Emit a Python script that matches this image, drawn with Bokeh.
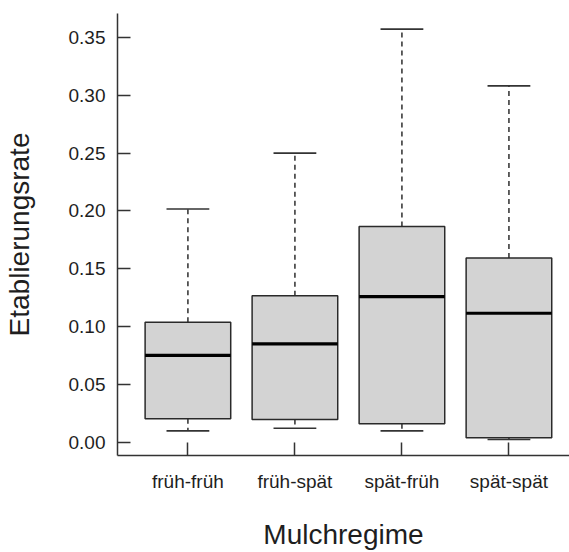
from bokeh.plotting import figure
from bokeh.models import Range1d, FixedTicker, PrintfTickFormatter, ColumnDataSource
from bokeh.embed import file_html
from bokeh.resources import INLINE

categories = ["früh-früh", "früh-spät", "spät-früh", "spät-spät"]
whisker_low = [0.0098, 0.0121, 0.0098, 0.0023]
q1 = [0.0202, 0.0196, 0.0159, 0.0038]
median = [0.0750, 0.0851, 0.1259, 0.1115]
q3 = [0.1038, 0.1267, 0.1865, 0.1592]
whisker_high = [0.2017, 0.2500, 0.3572, 0.3081]
y_ticks = [0.00, 0.05, 0.10, 0.15, 0.20, 0.25, 0.30, 0.35]
x_label = "Mulchregime"
y_label = "Etablierungsrate"

pos = [i + 1 for i in range(len(categories))]
box_w = 0.8
cap_w = 0.4

src = ColumnDataSource(dict(
    x=pos, lo=whisker_low, q1=q1, med=median, q3=q3, hi=whisker_high,
    xl=[p - box_w / 2 for p in pos], xr=[p + box_w / 2 for p in pos],
    cl=[p - cap_w / 2 for p in pos], cr=[p + cap_w / 2 for p in pos],
))

FONT = "Liberation Sans"
INK = "#1e1e1e"

p = figure(width=569, height=552, output_backend="svg", toolbar_location=None,
           x_range=Range1d(0.342, 4.566), y_range=Range1d(-0.0115, 0.3707),
           min_border_left=117, min_border_right=0, min_border_top=13, min_border_bottom=96)
p.outline_line_color = None
p.xgrid.visible = False
p.ygrid.visible = False
p.background_fill_color = "white"

# whiskers
p.segment(x0="x", y0="q3", x1="x", y1="hi", source=src, line_color="#3a3a3a", line_width=1.6, line_dash="5 4")
p.segment(x0="x", y0="q1", x1="x", y1="lo", source=src, line_color="#3a3a3a", line_width=1.6, line_dash="5 4")
p.segment(x0="cl", y0="hi", x1="cr", y1="hi", source=src, line_color="#333333", line_width=1.6)
p.segment(x0="cl", y0="lo", x1="cr", y1="lo", source=src, line_color="#333333", line_width=1.6)
# boxes
p.vbar(x="x", width=box_w, top="q3", bottom="q1", source=src, fill_color="#d3d3d3",
       line_color="#2a2a2a", line_width=1.5)
# medians
p.segment(x0="xl", y0="med", x1="xr", y1="med", source=src, line_color="#000000", line_width=3.2)

# y axis
ya = p.yaxis[0]
ya.ticker = FixedTicker(ticks=y_ticks)
ya.formatter = PrintfTickFormatter(format="%.2f")
ya.major_tick_in = 13
ya.major_tick_out = 0
ya.minor_tick_in = 0
ya.minor_tick_out = 0
ya.major_label_standoff = 12
ya.axis_label = y_label
ya.axis_label_standoff = 31

# x axis
xa = p.xaxis[0]
xa.ticker = FixedTicker(ticks=pos)
xa.major_label_overrides = {p_: c for p_, c in zip(pos, categories)}
xa.major_tick_in = 13
xa.major_tick_out = 0
xa.minor_tick_in = 0
xa.minor_tick_out = 0
xa.major_label_standoff = 15
xa.axis_label = x_label
xa.axis_label_standoff = 24

for ax in (xa, ya):
    ax.axis_line_color = "#333333"
    ax.axis_line_width = 1.5
    ax.major_tick_line_color = "#333333"
    ax.major_tick_line_width = 1.5
    ax.major_label_text_font = FONT
    ax.major_label_text_font_size = "19px"
    ax.major_label_text_color = INK
    ax.axis_label_text_font = FONT
    ax.axis_label_text_font_size = "28px"
    ax.axis_label_text_font_style = "normal"
    ax.axis_label_text_color = INK

open("out.html", "w").write(file_html(p, INLINE))
